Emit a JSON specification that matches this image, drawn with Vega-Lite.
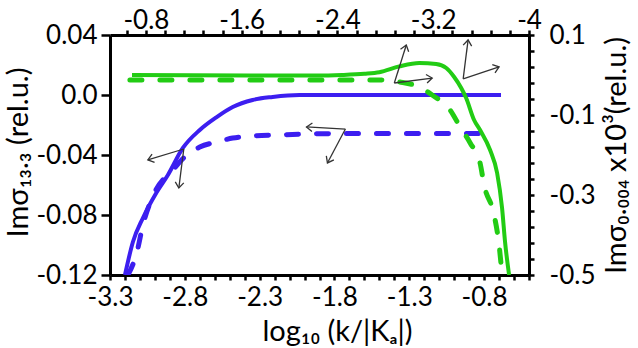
{
  "$schema": "https://vega.github.io/schema/vega-lite/v6.json",
  "width": 419,
  "height": 240,
  "autosize": {"type": "none"},
  "padding": {"left": 110, "top": 35, "right": 109, "bottom": 73},
  "background": "white",
  "config": {
    "view": {"stroke": null},
    "axis": {
      "grid": false,
      "labelFont": "Lato",
      "labelFontSize": 26,
      "labelColor": "black",
      "titleFont": "Lato",
      "titleFontSize": 29,
      "titleFontWeight": "normal",
      "titleColor": "black",
      "domainColor": "black",
      "domainWidth": 3,
      "tickColor": "black",
      "tickWidth": 2.5,
      "labelFlush": false,
      "labelOverlap": false,
      "labelBound": false
    }
  },
  "datasets": {
    "blueSolid": [
      {"x": -3.2, "y": -0.12}, {"x": -3.147, "y": -0.098}, {"x": -3.08, "y": -0.082},
      {"x": -2.987, "y": -0.0647}, {"x": -2.913, "y": -0.0533}, {"x": -2.813, "y": -0.0353},
      {"x": -2.7, "y": -0.0233}, {"x": -2.587, "y": -0.0147}, {"x": -2.48, "y": -0.008},
      {"x": -2.347, "y": -0.0033}, {"x": -2.213, "y": -0.0013}, {"x": -2.033, "y": 0},
      {"x": -1.833, "y": 0}, {"x": -1.3, "y": 0}, {"x": -0.687, "y": 0}
    ],
    "blueDashed": [
      {"x": -3.18, "y": -0.12}, {"x": -3.12, "y": -0.1047}, {"x": -3.08, "y": -0.0867},
      {"x": -3.0, "y": -0.0647}, {"x": -2.88, "y": -0.05}, {"x": -2.787, "y": -0.04},
      {"x": -2.7, "y": -0.0347}, {"x": -2.587, "y": -0.0313}, {"x": -2.48, "y": -0.0287},
      {"x": -2.347, "y": -0.0273}, {"x": -2.187, "y": -0.0267}, {"x": -1.987, "y": -0.026},
      {"x": -1.7, "y": -0.0257}, {"x": -0.72, "y": -0.0257}
    ],
    "greenSolid": [
      {"x": -3.153, "y": 0}, {"x": -2.367, "y": -0.001}, {"x": -1.913, "y": -0.0015},
      {"x": -1.75, "y": 0}, {"x": -1.6, "y": 0.003}, {"x": -1.5, "y": 0.007}, {"x": -1.367, "y": 0.0215},
      {"x": -1.233, "y": 0.03}, {"x": -1.12, "y": 0.0275}, {"x": -1.053, "y": 0.0175},
      {"x": -1.0, "y": -0.005}, {"x": -0.953, "y": -0.0325}, {"x": -0.92, "y": -0.0575},
      {"x": -0.867, "y": -0.1125}, {"x": -0.827, "y": -0.1375}, {"x": -0.76, "y": -0.1875},
      {"x": -0.713, "y": -0.245}, {"x": -0.68, "y": -0.3325}, {"x": -0.66, "y": -0.4175},
      {"x": -0.633, "y": -0.5}
    ],
    "greenDashed": [
      {"x": -3.167, "y": -0.0125}, {"x": -1.5, "y": -0.0125}, {"x": -1.367, "y": -0.0175},
      {"x": -1.233, "y": -0.03}, {"x": -1.147, "y": -0.05}, {"x": -1.027, "y": -0.0875},
      {"x": -0.96, "y": -0.13}, {"x": -0.893, "y": -0.17}, {"x": -0.827, "y": -0.22},
      {"x": -0.8, "y": -0.275}, {"x": -0.733, "y": -0.35}, {"x": -0.7, "y": -0.425},
      {"x": -0.68, "y": -0.5}
    ],
    "arrows": [
      {"x": -2.807, "y": -0.036, "x2": -3.047, "y2": -0.0433, "angle": 163},
      {"x": -2.807, "y": -0.036, "x2": -2.84, "y2": -0.062, "angle": 97},
      {"x": -1.727, "y": -0.0227, "x2": -1.987, "y2": -0.0213, "angle": 183},
      {"x": -1.727, "y": -0.0227, "x2": -1.847, "y2": -0.0453, "angle": 118},
      {"x": -1.4, "y": 0.008, "x2": -1.32, "y2": 0.0333, "angle": 287.5},
      {"x": -1.4, "y": 0.008, "x2": -1.147, "y2": 0.0113, "angle": 352.5},
      {"x": -0.94, "y": 0.0107, "x2": -0.907, "y2": 0.0367, "angle": 277},
      {"x": -0.94, "y": 0.0107, "x2": -0.7, "y2": 0.0187, "angle": 341.6}
    ],
    "topAxis": [{"t": -0.5}, {"t": -4}]
  },
  "resolve": {"scale": {"x": "independent", "y": "independent"}},
  "layer": [
    {
      "data": {"name": "blueSolid"},
      "mark": {"type": "line", "color": "#3c1ef0", "strokeWidth": 4, "interpolate": "monotone", "clip": true},
      "encoding": {
        "x": {
          "field": "x", "type": "quantitative",
          "scale": {"domain": [-3.3, -0.5], "nice": false, "zero": false},
          "axis": {
            "orient": "bottom",
            "title": "log₁₀ (k/|Kₐ|)",
            "titleX": 227,
            "titlePadding": 7,
            "tickSize": 5,
            "labelPadding": 4,
            "values": [-3.3,-3.2,-3.1,-3.0,-2.9,-2.8,-2.7,-2.6,-2.5,-2.4,-2.3,-2.2,-2.1,-2.0,-1.9,-1.8,-1.7,-1.6,-1.5,-1.4,-1.3,-1.2,-1.1,-1.0,-0.9,-0.8,-0.7,-0.6,-0.5],
            "labelExpr": "abs((datum.value + 3.3) / 0.5 - round((datum.value + 3.3) / 0.5)) < 0.01 ? replace(format(datum.value, '.1f'), '\u2212', '-') : ''"
          }
        },
        "y": {
          "field": "y", "type": "quantitative",
          "scale": {"domain": [-0.12, 0.04], "nice": false, "zero": false},
          "axis": {
            "orient": "left",
            "title": "Imσ₁₃.₃ (rel.u.)",
            "titleX": -83,
            "titleY": 117,
            "titleAlign": "center",
            "titleBaseline": "alphabetic",
            "titleAngle": -90,
            "tickSize": 9,
            "labelPadding": 4,
            "values": [-0.12, -0.08, -0.04, 0, 0.04],
            "labelExpr": "datum.value == 0 ? '0.0' : replace(format(datum.value, '.2f'), '\u2212', '-')"
          }
        }
      }
    },
    {
      "data": {"name": "blueDashed"},
      "mark": {"type": "line", "color": "#3c1ef0", "strokeWidth": 5, "strokeDash": [12, 18], "strokeCap": "round", "interpolate": "monotone", "clip": true},
      "encoding": {
        "x": {"field": "x", "type": "quantitative", "scale": {"domain": [-3.3, -0.5], "nice": false, "zero": false}, "axis": null},
        "y": {"field": "y", "type": "quantitative", "scale": {"domain": [-0.12, 0.04], "nice": false, "zero": false}, "axis": null}
      }
    },
    {
      "data": {"name": "greenSolid"},
      "mark": {"type": "line", "color": "#22cc14", "strokeWidth": 4, "interpolate": "monotone", "clip": true},
      "encoding": {
        "x": {"field": "x", "type": "quantitative", "scale": {"domain": [-3.3, -0.5], "nice": false, "zero": false}, "axis": null},
        "y": {
          "field": "y", "type": "quantitative",
          "scale": {"domain": [-0.5, 0.1], "nice": false, "zero": false},
          "axis": {
            "orient": "right",
            "title": "Imσ₀.₀₀₄ x10³(rel.u.)",
            "titleAngle": -90,
            "titleBaseline": "top",
            "titlePadding": 8,
            "tickSize": 5,
            "labelPadding": 15,
            "values": [-0.5,-0.46,-0.42,-0.38,-0.34,-0.3,-0.26,-0.22,-0.18,-0.14,-0.1,-0.06,-0.02,0.02,0.06,0.1],
            "labelExpr": "abs((datum.value + 0.5) / 0.2 - round((datum.value + 0.5) / 0.2)) < 0.01 ? replace(format(datum.value, '.1f'), '\u2212', '-') : ''"
          }
        }
      }
    },
    {
      "data": {"name": "greenDashed"},
      "mark": {"type": "line", "color": "#22cc14", "strokeWidth": 5, "strokeDash": [12, 18], "strokeCap": "round", "interpolate": "monotone", "clip": true},
      "encoding": {
        "x": {"field": "x", "type": "quantitative", "scale": {"domain": [-3.3, -0.5], "nice": false, "zero": false}, "axis": null},
        "y": {"field": "y", "type": "quantitative", "scale": {"domain": [-0.5, 0.1], "nice": false, "zero": false}, "axis": null}
      }
    },
    {
      "data": {"name": "arrows"},
      "mark": {"type": "rule", "color": "#333333", "strokeWidth": 1.3},
      "encoding": {
        "x": {"field": "x", "type": "quantitative", "scale": {"domain": [-3.3, -0.5], "nice": false, "zero": false}, "axis": null},
        "y": {"field": "y", "type": "quantitative", "scale": {"domain": [-0.12, 0.04], "nice": false, "zero": false}, "axis": null},
        "x2": {"field": "x2"},
        "y2": {"field": "y2"}
      }
    },
    {
      "data": {"name": "arrows"},
      "mark": {"type": "point", "shape": "M-1,-0.75L0,0L-1,0.75", "filled": false, "stroke": "#333333", "strokeWidth": 1.3, "size": 130, "opacity": 1},
      "encoding": {
        "x": {"field": "x2", "type": "quantitative", "scale": {"domain": [-3.3, -0.5], "nice": false, "zero": false}, "axis": null},
        "y": {"field": "y2", "type": "quantitative", "scale": {"domain": [-0.12, 0.04], "nice": false, "zero": false}, "axis": null},
        "angle": {"field": "angle", "type": "quantitative", "scale": null}
      }
    },
    {
      "data": {"name": "topAxis"},
      "mark": {"type": "point", "opacity": 0},
      "encoding": {
        "x": {
          "field": "t", "type": "quantitative",
          "scale": {"domain": [-4, -0.5], "reverse": true, "nice": false, "zero": false},
          "axis": {
            "orient": "top",
            "title": null,
            "tickSize": 5,
            "labelPadding": -3,
            "values": [-0.64,-0.8,-0.96,-1.12,-1.28,-1.44,-1.6,-1.76,-1.92,-2.08,-2.24,-2.4,-2.56,-2.72,-2.88,-3.04,-3.2,-3.36,-3.52,-3.68,-3.84,-4.0],
            "labelExpr": "abs(datum.value / 0.8 - round(datum.value / 0.8)) < 0.01 ? replace(format(datum.value, '.2~f'), '\u2212', '-') : ''"
          }
        }
      }
    }
  ]
}
